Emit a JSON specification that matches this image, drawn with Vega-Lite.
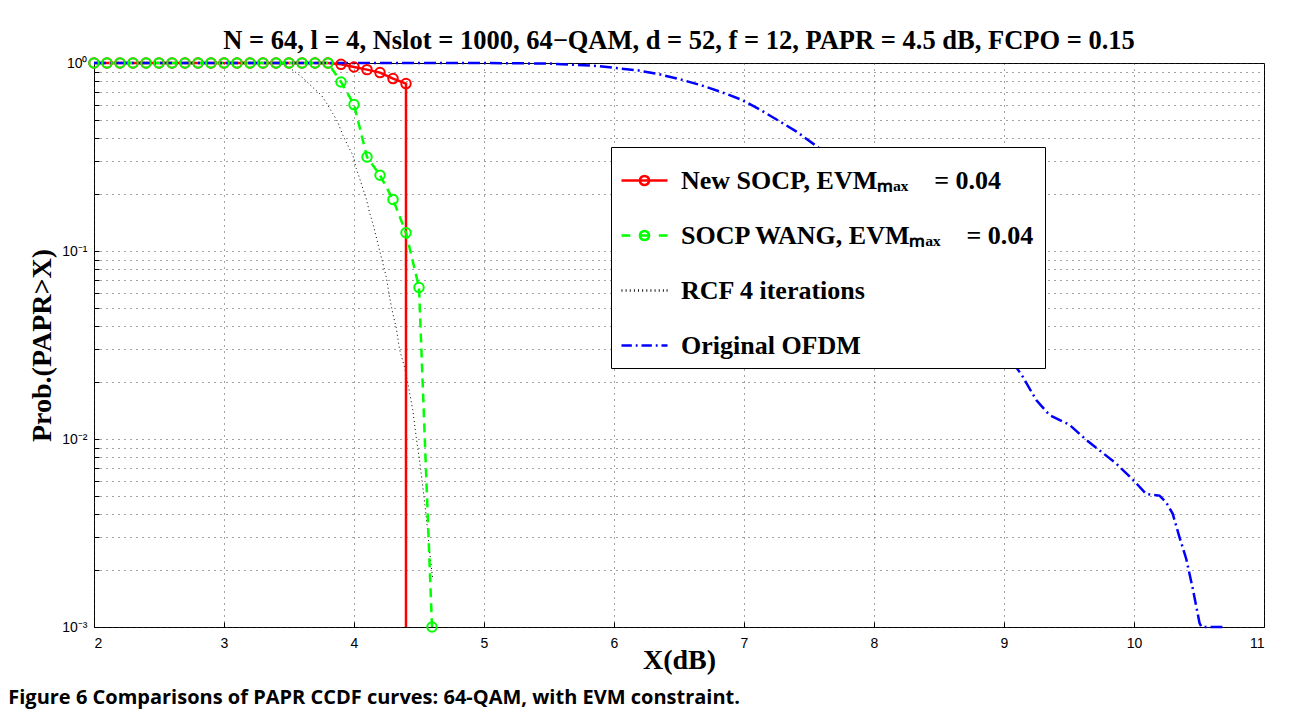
{
  "$schema": "https://vega.github.io/schema/vega-lite/v6.json",
  "background": "white",
  "padding": {"left": 8, "top": 27, "right": 20, "bottom": 4},
  "title": {"text": "Figure 6 Comparisons of PAPR CCDF curves: 64-QAM, with EVM constraint.", "orient": "bottom", "anchor": "start", "font": "Open Sans", "fontSize": 20, "fontWeight": 700, "color": "black", "offset": 13, "dx": -20},
  "vconcat": [
    {
      "width": 1170,
      "height": 564,
      "title": {"text": "N = 64, l = 4, Nslot = 1000, 64−QAM, d = 52, f = 12, PAPR = 4.5 dB, FCPO = 0.15", "font": "Liberation Serif", "fontSize": 26.5, "fontWeight": "bold", "color": "black", "offset": 0},
      "data": {"values": [
        {"s": "New SOCP, EVMₘₐₓ = 0.04", "x": 2.0, "p": 1, "m": 1},
        {"s": "New SOCP, EVMₘₐₓ = 0.04", "x": 2.1, "p": 1, "m": 1},
        {"s": "New SOCP, EVMₘₐₓ = 0.04", "x": 2.2, "p": 1, "m": 1},
        {"s": "New SOCP, EVMₘₐₓ = 0.04", "x": 2.3, "p": 1, "m": 1},
        {"s": "New SOCP, EVMₘₐₓ = 0.04", "x": 2.4, "p": 1, "m": 1},
        {"s": "New SOCP, EVMₘₐₓ = 0.04", "x": 2.5, "p": 1, "m": 1},
        {"s": "New SOCP, EVMₘₐₓ = 0.04", "x": 2.6, "p": 1, "m": 1},
        {"s": "New SOCP, EVMₘₐₓ = 0.04", "x": 2.7, "p": 1, "m": 1},
        {"s": "New SOCP, EVMₘₐₓ = 0.04", "x": 2.8, "p": 1, "m": 1},
        {"s": "New SOCP, EVMₘₐₓ = 0.04", "x": 2.9, "p": 1, "m": 1},
        {"s": "New SOCP, EVMₘₐₓ = 0.04", "x": 3.0, "p": 1, "m": 1},
        {"s": "New SOCP, EVMₘₐₓ = 0.04", "x": 3.1, "p": 1, "m": 1},
        {"s": "New SOCP, EVMₘₐₓ = 0.04", "x": 3.2, "p": 1, "m": 1},
        {"s": "New SOCP, EVMₘₐₓ = 0.04", "x": 3.3, "p": 1, "m": 1},
        {"s": "New SOCP, EVMₘₐₓ = 0.04", "x": 3.4, "p": 1, "m": 1},
        {"s": "New SOCP, EVMₘₐₓ = 0.04", "x": 3.5, "p": 1, "m": 1},
        {"s": "New SOCP, EVMₘₐₓ = 0.04", "x": 3.6, "p": 1, "m": 1},
        {"s": "New SOCP, EVMₘₐₓ = 0.04", "x": 3.7, "p": 1, "m": 1},
        {"s": "New SOCP, EVMₘₐₓ = 0.04", "x": 3.8, "p": 1, "m": 1},
        {"s": "New SOCP, EVMₘₐₓ = 0.04", "x": 3.9, "p": 0.984, "m": 1},
        {"s": "New SOCP, EVMₘₐₓ = 0.04", "x": 4.0, "p": 0.952, "m": 1},
        {"s": "New SOCP, EVMₘₐₓ = 0.04", "x": 4.1, "p": 0.922, "m": 1},
        {"s": "New SOCP, EVMₘₐₓ = 0.04", "x": 4.2, "p": 0.889, "m": 1},
        {"s": "New SOCP, EVMₘₐₓ = 0.04", "x": 4.3, "p": 0.826, "m": 1},
        {"s": "New SOCP, EVMₘₐₓ = 0.04", "x": 4.4, "p": 0.777, "m": 1},
        {"s": "New SOCP, EVMₘₐₓ = 0.04", "x": 4.4, "p": 0.001, "m": 0},
        {"s": "SOCP WANG, EVMₘₐₓ = 0.04", "x": 2.0, "p": 1, "m": 1},
        {"s": "SOCP WANG, EVMₘₐₓ = 0.04", "x": 2.1, "p": 1, "m": 1},
        {"s": "SOCP WANG, EVMₘₐₓ = 0.04", "x": 2.2, "p": 1, "m": 1},
        {"s": "SOCP WANG, EVMₘₐₓ = 0.04", "x": 2.3, "p": 1, "m": 1},
        {"s": "SOCP WANG, EVMₘₐₓ = 0.04", "x": 2.4, "p": 1, "m": 1},
        {"s": "SOCP WANG, EVMₘₐₓ = 0.04", "x": 2.5, "p": 1, "m": 1},
        {"s": "SOCP WANG, EVMₘₐₓ = 0.04", "x": 2.6, "p": 1, "m": 1},
        {"s": "SOCP WANG, EVMₘₐₓ = 0.04", "x": 2.7, "p": 1, "m": 1},
        {"s": "SOCP WANG, EVMₘₐₓ = 0.04", "x": 2.8, "p": 1, "m": 1},
        {"s": "SOCP WANG, EVMₘₐₓ = 0.04", "x": 2.9, "p": 1, "m": 1},
        {"s": "SOCP WANG, EVMₘₐₓ = 0.04", "x": 3.0, "p": 1, "m": 1},
        {"s": "SOCP WANG, EVMₘₐₓ = 0.04", "x": 3.1, "p": 1, "m": 1},
        {"s": "SOCP WANG, EVMₘₐₓ = 0.04", "x": 3.2, "p": 1, "m": 1},
        {"s": "SOCP WANG, EVMₘₐₓ = 0.04", "x": 3.3, "p": 1, "m": 1},
        {"s": "SOCP WANG, EVMₘₐₓ = 0.04", "x": 3.4, "p": 1, "m": 1},
        {"s": "SOCP WANG, EVMₘₐₓ = 0.04", "x": 3.5, "p": 1, "m": 1},
        {"s": "SOCP WANG, EVMₘₐₓ = 0.04", "x": 3.6, "p": 1, "m": 1},
        {"s": "SOCP WANG, EVMₘₐₓ = 0.04", "x": 3.7, "p": 1, "m": 1},
        {"s": "SOCP WANG, EVMₘₐₓ = 0.04", "x": 3.8, "p": 1, "m": 1},
        {"s": "SOCP WANG, EVMₘₐₓ = 0.04", "x": 3.9, "p": 0.793, "m": 1},
        {"s": "SOCP WANG, EVMₘₐₓ = 0.04", "x": 4.0, "p": 0.601, "m": 1},
        {"s": "SOCP WANG, EVMₘₐₓ = 0.04", "x": 4.1, "p": 0.316, "m": 1},
        {"s": "SOCP WANG, EVMₘₐₓ = 0.04", "x": 4.2, "p": 0.253, "m": 1},
        {"s": "SOCP WANG, EVMₘₐₓ = 0.04", "x": 4.3, "p": 0.188, "m": 1},
        {"s": "SOCP WANG, EVMₘₐₓ = 0.04", "x": 4.4, "p": 0.125, "m": 1},
        {"s": "SOCP WANG, EVMₘₐₓ = 0.04", "x": 4.5, "p": 0.064, "m": 1},
        {"s": "SOCP WANG, EVMₘₐₓ = 0.04", "x": 4.6, "p": 0.001, "m": 1},
        {"s": "RCF 4 iterations", "x": 2.0, "p": 1, "m": 0},
        {"s": "RCF 4 iterations", "x": 3.42, "p": 1, "m": 0},
        {"s": "RCF 4 iterations", "x": 3.48, "p": 0.975, "m": 0},
        {"s": "RCF 4 iterations", "x": 3.53, "p": 0.915, "m": 0},
        {"s": "RCF 4 iterations", "x": 3.6, "p": 0.84, "m": 0},
        {"s": "RCF 4 iterations", "x": 3.68, "p": 0.745, "m": 0},
        {"s": "RCF 4 iterations", "x": 3.75, "p": 0.673, "m": 0},
        {"s": "RCF 4 iterations", "x": 3.79, "p": 0.61, "m": 0},
        {"s": "RCF 4 iterations", "x": 3.837, "p": 0.538, "m": 0},
        {"s": "RCF 4 iterations", "x": 3.875, "p": 0.486, "m": 0},
        {"s": "RCF 4 iterations", "x": 3.914, "p": 0.413, "m": 0},
        {"s": "RCF 4 iterations", "x": 3.952, "p": 0.365, "m": 0},
        {"s": "RCF 4 iterations", "x": 3.991, "p": 0.323, "m": 0},
        {"s": "RCF 4 iterations", "x": 4.017, "p": 0.275, "m": 0},
        {"s": "RCF 4 iterations", "x": 4.042, "p": 0.245, "m": 0},
        {"s": "RCF 4 iterations", "x": 4.068, "p": 0.215, "m": 0},
        {"s": "RCF 4 iterations", "x": 4.094, "p": 0.19, "m": 0},
        {"s": "RCF 4 iterations", "x": 4.119, "p": 0.161, "m": 0},
        {"s": "RCF 4 iterations", "x": 4.145, "p": 0.14, "m": 0},
        {"s": "RCF 4 iterations", "x": 4.171, "p": 0.119, "m": 0},
        {"s": "RCF 4 iterations", "x": 4.196, "p": 0.101, "m": 0},
        {"s": "RCF 4 iterations", "x": 4.222, "p": 0.086, "m": 0},
        {"s": "RCF 4 iterations", "x": 4.248, "p": 0.073, "m": 0},
        {"s": "RCF 4 iterations", "x": 4.273, "p": 0.057, "m": 0},
        {"s": "RCF 4 iterations", "x": 4.3, "p": 0.046, "m": 0},
        {"s": "RCF 4 iterations", "x": 4.325, "p": 0.039, "m": 0},
        {"s": "RCF 4 iterations", "x": 4.35, "p": 0.03, "m": 0},
        {"s": "RCF 4 iterations", "x": 4.388, "p": 0.0242, "m": 0},
        {"s": "RCF 4 iterations", "x": 4.414, "p": 0.0198, "m": 0},
        {"s": "RCF 4 iterations", "x": 4.452, "p": 0.0143, "m": 0},
        {"s": "RCF 4 iterations", "x": 4.478, "p": 0.0103, "m": 0},
        {"s": "RCF 4 iterations", "x": 4.504, "p": 0.0077, "m": 0},
        {"s": "RCF 4 iterations", "x": 4.529, "p": 0.0056, "m": 0},
        {"s": "RCF 4 iterations", "x": 4.555, "p": 0.0039, "m": 0},
        {"s": "RCF 4 iterations", "x": 4.58, "p": 0.0026, "m": 0},
        {"s": "RCF 4 iterations", "x": 4.594, "p": 0.0021, "m": 0},
        {"s": "RCF 4 iterations", "x": 4.606, "p": 0.0018, "m": 0},
        {"s": "Original OFDM", "x": 2.0, "p": 1, "m": 0},
        {"s": "Original OFDM", "x": 5.0, "p": 1, "m": 0},
        {"s": "Original OFDM", "x": 5.5, "p": 0.993, "m": 0},
        {"s": "Original OFDM", "x": 5.875, "p": 0.964, "m": 0},
        {"s": "Original OFDM", "x": 6.017, "p": 0.94, "m": 0},
        {"s": "Original OFDM", "x": 6.183, "p": 0.914, "m": 0},
        {"s": "Original OFDM", "x": 6.35, "p": 0.871, "m": 0},
        {"s": "Original OFDM", "x": 6.517, "p": 0.816, "m": 0},
        {"s": "Original OFDM", "x": 6.671, "p": 0.761, "m": 0},
        {"s": "Original OFDM", "x": 6.825, "p": 0.701, "m": 0},
        {"s": "Original OFDM", "x": 6.978, "p": 0.639, "m": 0},
        {"s": "Original OFDM", "x": 7.119, "p": 0.567, "m": 0},
        {"s": "Original OFDM", "x": 7.26, "p": 0.496, "m": 0},
        {"s": "Original OFDM", "x": 7.401, "p": 0.433, "m": 0},
        {"s": "Original OFDM", "x": 7.542, "p": 0.368, "m": 0},
        {"s": "Original OFDM", "x": 7.8, "p": 0.27, "m": 0},
        {"s": "Original OFDM", "x": 8.0, "p": 0.2, "m": 0},
        {"s": "Original OFDM", "x": 8.2, "p": 0.145, "m": 0},
        {"s": "Original OFDM", "x": 8.4, "p": 0.1, "m": 0},
        {"s": "Original OFDM", "x": 8.6, "p": 0.068, "m": 0},
        {"s": "Original OFDM", "x": 8.8, "p": 0.045, "m": 0},
        {"s": "Original OFDM", "x": 9.0, "p": 0.03, "m": 0},
        {"s": "Original OFDM", "x": 9.145, "p": 0.0214, "m": 0},
        {"s": "Original OFDM", "x": 9.248, "p": 0.0161, "m": 0},
        {"s": "Original OFDM", "x": 9.35, "p": 0.0134, "m": 0},
        {"s": "Original OFDM", "x": 9.504, "p": 0.0119, "m": 0},
        {"s": "Original OFDM", "x": 9.632, "p": 0.0099, "m": 0},
        {"s": "Original OFDM", "x": 9.735, "p": 0.0087, "m": 0},
        {"s": "Original OFDM", "x": 9.863, "p": 0.0074, "m": 0},
        {"s": "Original OFDM", "x": 9.99, "p": 0.0061, "m": 0},
        {"s": "Original OFDM", "x": 10.094, "p": 0.0051, "m": 0},
        {"s": "Original OFDM", "x": 10.196, "p": 0.005, "m": 0},
        {"s": "Original OFDM", "x": 10.248, "p": 0.0046, "m": 0},
        {"s": "Original OFDM", "x": 10.298, "p": 0.004, "m": 0},
        {"s": "Original OFDM", "x": 10.35, "p": 0.003, "m": 0},
        {"s": "Original OFDM", "x": 10.402, "p": 0.0023, "m": 0},
        {"s": "Original OFDM", "x": 10.452, "p": 0.0016, "m": 0},
        {"s": "Original OFDM", "x": 10.504, "p": 0.00105, "m": 0},
        {"s": "Original OFDM", "x": 10.52, "p": 0.001, "m": 0},
        {"s": "Original OFDM", "x": 10.68, "p": 0.001, "m": 0}
      ]},
      "encoding": {
        "x": {"field": "x", "type": "quantitative",
          "scale": {"domain": [2, 11], "nice": false, "zero": false},
          "axis": {"title": "X(dB)", "values": [2, 3, 4, 5, 6, 7, 8, 9, 10, 11], "format": "d", "labelPadding": 14, "titlePadding": -4}},
        "y": {"field": "p", "type": "quantitative",
          "scale": {"type": "log", "domain": [0.001, 1], "nice": false},
          "axis": {"title": "Prob.(PAPR>X)", "values": [0.001, 0.002, 0.003, 0.004, 0.005, 0.006, 0.007, 0.008, 0.009, 0.01, 0.02, 0.03, 0.04, 0.05, 0.06, 0.07, 0.08, 0.09, 0.1, 0.2, 0.3, 0.4, 0.5, 0.6, 0.7, 0.8, 0.9, 1],
            "labelExpr": "datum.value === 1 ? '10⁰' : datum.value === 0.1 ? '10⁻¹' : datum.value === 0.01 ? '10⁻²' : datum.value === 0.001 ? '10⁻³' : ''",
            "labelPadding": 12, "titlePadding": 5}},
        "color": {"field": "s", "type": "nominal",
          "scale": {"domain": ["New SOCP, EVMₘₐₓ = 0.04", "SOCP WANG, EVMₘₐₓ = 0.04", "RCF 4 iterations", "Original OFDM"], "range": ["#ff0000", "#00ff00", "#000000", "#0000ff"]},
          "legend": {
            "title": null, "orient": "none", "legendX": 517, "legendY": 84, "zindex": 1,
            "fillColor": "white", "strokeColor": "black", "padding": 9, "rowPadding": 17,
            "labelFont": "Liberation Serif", "labelFontSize": 26, "labelFontWeight": "bold", "labelColor": "black", "labelLimit": 800, "labelOffset": 12,
            "labelExpr": "replace(datum.label, ' = ', '\u00a0\u00a0\u00a0 = ')",
            "symbolSize": 2116, "symbolStrokeWidth": 2.5, "symbolDash": [], "symbolOpacity": 1}}
      },
      "layer": [
        {"transform": [{"filter": "datum.m === 9"}],
         "mark": {"type": "point", "filled": false, "strokeWidth": 2.5},
         "encoding": {"shape": {"field": "s", "type": "nominal",
           "scale": {"domain": ["New SOCP, EVMₘₐₓ = 0.04", "SOCP WANG, EVMₘₐₓ = 0.04", "RCF 4 iterations", "Original OFDM"],
             "range": ["M-1,0H1M0.2,0A0.2,0.2 0 1,1 -0.2,0A0.2,0.2 0 1,1 0.2,0",
                       "M-1,0H-0.62M-0.2,0H0.2M0.62,0H1M0.2,0A0.2,0.2 0 1,1 -0.2,0A0.2,0.2 0 1,1 0.2,0",
                       "M-1,0h0.04M-0.82,0h0.04M-0.64,0h0.04M-0.46,0h0.04M-0.28,0h0.04M-0.1,0h0.04M0.08,0h0.04M0.26,0h0.04M0.44,0h0.04M0.62,0h0.04M0.8,0h0.04M0.96,0h0.04",
                       "M-1,0H-0.55M-0.38,0H-0.3M-0.13,0H0.32M0.49,0H0.57M0.74,0H1"]},
           "legend": {"title": null, "orient": "none", "legendX": 517, "legendY": 84, "zindex": 1,
            "fillColor": "white", "strokeColor": "black", "padding": 9, "rowPadding": 17,
            "labelFont": "Liberation Serif", "labelFontSize": 26, "labelFontWeight": "bold", "labelColor": "black", "labelLimit": 800, "labelOffset": 12,
            "labelExpr": "replace(datum.label, ' = ', '\u00a0\u00a0\u00a0 = ')",
            "symbolSize": 2116, "symbolStrokeWidth": 2.5, "symbolDash": [], "symbolOpacity": 1}}}},
        {"transform": [{"filter": "datum.s === 'RCF 4 iterations'"}],
         "mark": {"type": "line", "strokeWidth": 1, "strokeDash": [1, 3]}},
        {"transform": [{"filter": "datum.s === 'New SOCP, EVMₘₐₓ = 0.04'"}],
         "mark": {"type": "line", "strokeWidth": 2.5}, "encoding": {"order": {"value": null}}},
        {"transform": [{"filter": "datum.s === 'SOCP WANG, EVMₘₐₓ = 0.04'"}],
         "mark": {"type": "line", "strokeWidth": 2.5, "strokeDash": [9, 6]}},
        {"transform": [{"filter": "datum.s === 'Original OFDM'"}],
         "mark": {"type": "line", "strokeWidth": 2.5, "strokeDash": [12, 4, 2, 4]}},
        {"transform": [{"filter": "datum.m === 1"}],
         "mark": {"type": "point", "shape": "circle", "filled": false, "strokeWidth": 2, "size": 90, "opacity": 1}}
      ]
    }
  ],
  "config": {
    "view": {"stroke": "black", "strokeWidth": 1},
    "axis": {"labelFont": "Liberation Sans", "labelFontSize": 14, "labelColor": "black",
      "titleFont": "Liberation Serif", "titleFontSize": 28, "titleFontWeight": "bold", "titleColor": "black",
      "grid": true, "gridColor": "#333333", "gridDash": [1, 5], "gridWidth": 1, "gridOpacity": 0.9,
      "domain": false, "ticks": true, "tickColor": "black", "tickSize": -5, "tickWidth": 1}
  }
}
